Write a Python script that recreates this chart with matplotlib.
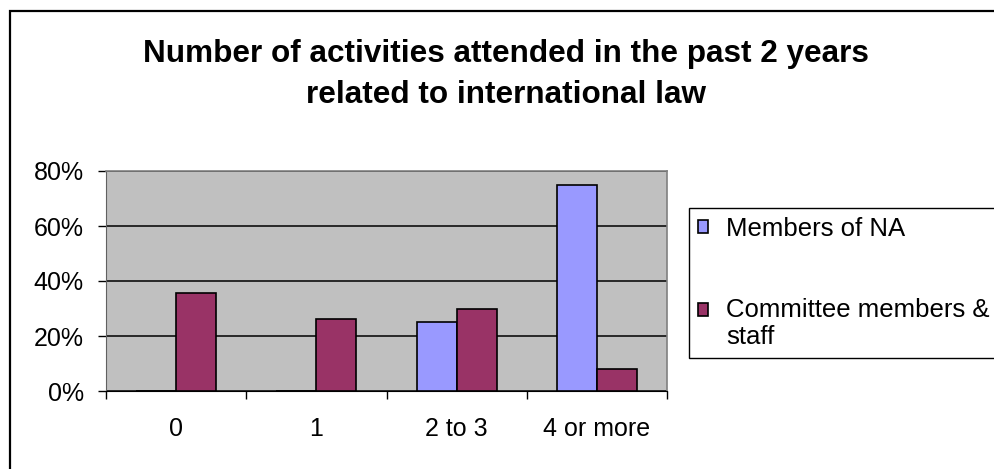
import numpy as np
import matplotlib
matplotlib.use("Agg")
import matplotlib.pyplot as plt
from matplotlib.patches import Rectangle
from matplotlib.legend_handler import HandlerPatch
from matplotlib.ticker import FuncFormatter, MultipleLocator

plt.rcParams["font.family"] = ["Liberation Sans", "DejaVu Sans"]

# Share of respondents (%) by number of activities attended
categories = ["0", "1", "2 to 3", "4 or more"]
members_na = [0, 0, 25, 75]
committee_staff = [35.5, 26.1, 29.7, 7.9]
series_labels = ["Members of NA", "Committee members &\nstaff"]

W, H = 994, 469
fig = plt.figure(figsize=(W / 100, H / 100), dpi=100)

# chart border (runs off the right and bottom edges)
fig.patches.append(Rectangle((10 / W, -0.2), 1.2, 1.2 - 11 / H,
                             transform=fig.transFigure, fill=False,
                             edgecolor="black", linewidth=1.6, zorder=0))

ax = fig.add_axes([106 / W, 1 - 391 / H, 561 / W, 220 / H])
ax.set_facecolor("#C0C0C0")

x = np.arange(len(categories))
w = 2 / 7
b1 = ax.bar(x - w / 2, members_na, w, color="#9999FF", edgecolor="black",
            linewidth=1.2, zorder=3)
b2 = ax.bar(x + w / 2, committee_staff, w, color="#993366", edgecolor="black",
            linewidth=1.2, zorder=3)

ax.set_xlim(-0.5, len(categories) - 0.5)
ax.set_ylim(0, 80)
ax.yaxis.set_major_locator(MultipleLocator(20))
ax.yaxis.set_major_formatter(FuncFormatter(lambda v, p: "%d%%" % v))
ax.grid(axis="y", color="black", linewidth=1.1, zorder=1)

ax.set_xticks(x)
ax.set_xticklabels(categories)
ax.set_xticks(np.arange(-0.5, len(categories)), minor=True)
ax.tick_params(axis="x", which="major", length=0, pad=19, labelsize=18)
ax.tick_params(axis="x", which="minor", length=6, width=1, direction="out")
ax.tick_params(axis="y", length=6, width=1, direction="out", pad=10,
               labelsize=18)

for side in ["top", "right"]:
    ax.spines[side].set_color("#808080")
    ax.spines[side].set_linewidth(1.2)
ax.spines["left"].set_color("#606060")
ax.spines["bottom"].set_color("black")

fig.text(506 / W, 1 - 39 / H,
         "Number of activities attended in the past 2 years\n"
         "related to international law",
         ha="center", va="top", fontsize=22.7, fontweight="bold",
         linespacing=1.46)


# legend marker sits level with the first line of a wrapped label
def first_line_patch(legend, orig_handle, xdescent, ydescent, width, height,
                     fontsize):
    return Rectangle((-xdescent, -ydescent + 0.55 * fontsize), width, height)


h1, h2 = b1.patches[0], b2.patches[0]
leg = ax.legend([h1, h2], series_labels, loc="upper left",
                bbox_to_anchor=(689 / W, 1 - 208 / H),
                bbox_transform=fig.transFigure, fontsize=18.5,
                handlelength=0.4, handleheight=0.4, handletextpad=0.7,
                borderpad=0.35, borderaxespad=0, labelspacing=2.2,
                fancybox=False, framealpha=1, edgecolor="black",
                handler_map={h2: HandlerPatch(patch_func=first_line_patch)})
leg.get_frame().set_linewidth(1.0)

fig.savefig("out.png", dpi=100)
